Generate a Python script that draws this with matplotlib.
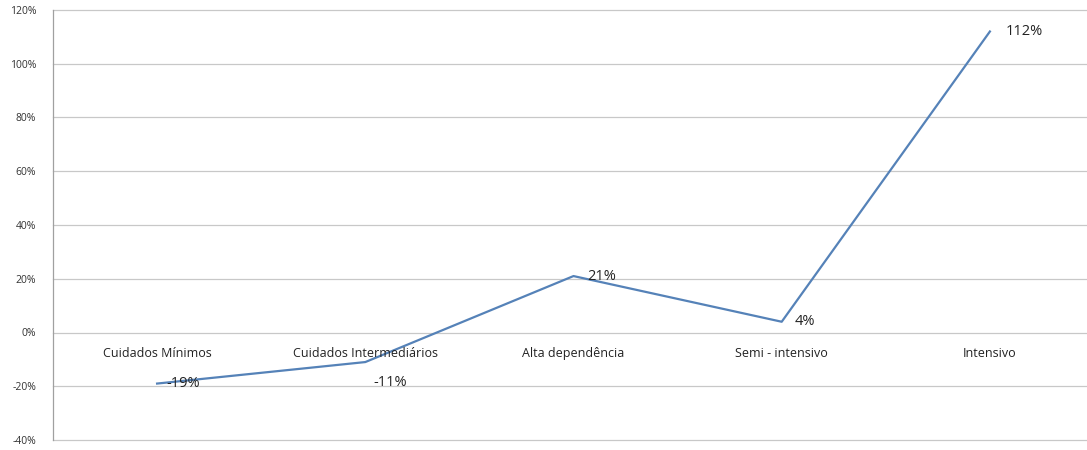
import matplotlib
matplotlib.use("Agg")
import matplotlib.pyplot as plt
from matplotlib.ticker import FuncFormatter

categories = ["Cuidados Mínimos", "Cuidados Intermediários", "Alta dependência", "Semi - intensivo", "Intensivo"]
values = [-19, -11, 21, 4, 112]
labels = ["-19%", "-11%", "21%", "4%", "112%"]
label_offsets = [(7, 0), (6, -15), (10, 0), (9, 0), (11, 0)]

plt.rcParams['font.family'] = ['Open Sans', 'DejaVu Sans']

fig = plt.figure(figsize=(10.87, 4.5), dpi=100)
ax = fig.add_axes([53/1087, 10/450, 1041/1087, 430/450])

x = list(range(len(categories)))
ax.plot(x, values, color="#5582B8", lw=1.6, zorder=3)

ax.set_xlim(-0.5, len(categories) - 0.5)
ax.set_ylim(-40, 120)
ax.set_yticks(range(-40, 121, 20))
ax.yaxis.set_major_formatter(FuncFormatter(lambda v, p: f"{int(v)}%"))
ax.tick_params(axis='y', labelsize=7.5, colors="#333333", length=0, pad=12)
ax.set_xticks([])
ax.grid(axis='y', color="#C8C8C8", lw=0.9)
for gl in ax.get_ygridlines():
    gl.set_clip_on(False)
ax.set_axisbelow(True)
for s in ["top", "right", "bottom"]:
    ax.spines[s].set_visible(False)
ax.spines["left"].set_color("#A0A0A0")
ax.spines["left"].set_linewidth(0.9)

for xi, cat in zip(x, categories):
    ax.annotate(cat, xy=(xi, 0), xytext=(0, -15), textcoords="offset points",
                ha="center", va="center", fontsize=9, color="#222222")

for xi, v, lab, off in zip(x, values, labels, label_offsets):
    ax.annotate(lab, xy=(xi, v), xytext=off, textcoords="offset points",
                ha="left", va="center", fontsize=10.5, color="#222222", zorder=4)

fig.savefig("out.png", dpi=100)
